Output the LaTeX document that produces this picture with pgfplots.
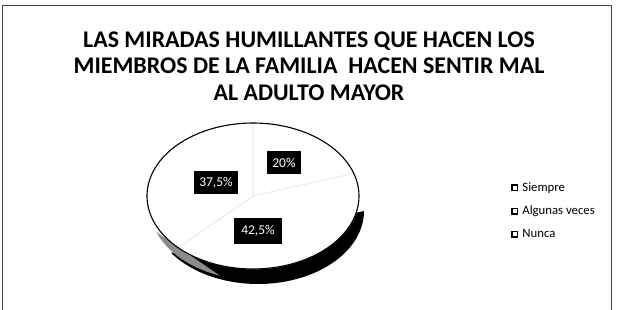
\documentclass[border=0pt]{standalone}
\usepackage{fontspec}
\setmainfont{Carlito}
\usepackage{pgfplots}
\usepackage{pgfplotstable}
\pgfplotsset{compat=1.18}
\pgfplotstableread{
cat value
Siempre 20
Algunas 42.5
Nunca 37.5
}\piedata
\pgfplotstablegetelem{0}{value}\of\piedata \let\vA\pgfplotsretval
\pgfplotstablegetelem{1}{value}\of\piedata \let\vB\pgfplotsretval
\pgfplotstablegetelem{2}{value}\of\piedata \let\vC\pgfplotsretval
\pgfmathsetmacro{\aS}{90}
\pgfmathsetmacro{\aA}{90-3.6*\vA}
\pgfmathsetmacro{\aB}{\aA-3.6*\vB}
\pgfmathsetmacro{\aC}{\aB-3.6*\vC}
\def\cx{253}\def\cy{114}\def\rx{106}\def\ry{73}
\begin{document}
\begin{tikzpicture}
\begin{axis}[
  scale only axis, width=633bp, height=310bp,
  xmin=0, xmax=633, ymin=0, ymax=310,
  hide axis, clip=false,
  legend style={at={(axis cs:511,129)}, anchor=north west, draw=none, fill=none,
    font=\fontsize{12.8}{14}\selectfont, row sep=10pt, inner sep=0pt,
    nodes={inner sep=1.5pt}},
  legend cell align=left,
  legend image code/.code={\draw[black, line width=1.5pt, fill=white] (0pt,-2.8pt) rectangle (5.6pt,2.8pt); \path[draw=none, fill=none] (0pt,0pt) -- (9pt,0pt);},
]
\coordinate (ll) at (axis cs:0,0);
\coordinate (ur) at (axis cs:633,310);
% frame
\draw[black!75, line width=0.9pt] (axis cs:2,0) -- (axis cs:2,305) -- (axis cs:611,305) -- (axis cs:611,0);
% title
\node[align=center, font=\fontsize{24}{26.5}\selectfont\bfseries] at (axis cs:309,244)
 {LAS MIRADAS HUMILLANTES QUE HACEN LOS\\MIEMBROS DE LA FAMILIA\ \ HACEN SENTIR MAL\\AL ADULTO MAYOR};
% side of the 3D pie
\addplot[forget plot, fill=black, draw=none, domain=215:360, samples=80]
  ({\cx+5+\rx*cos(x)}, {\cy-15+\ry*sin(x)}) -- cycle;
\addplot[forget plot, fill=black!45, draw=none, domain=200:250, samples=30]
  ({\cx+3+\rx*cos(x)}, {\cy-11+\ry*sin(x)}) -- cycle;
% slices
\addplot[forget plot, fill=white, draw=black!10, line width=0.6pt, domain=\aS:\aA, samples=40]
  ({\cx+\rx*cos(x)}, {\cy+\ry*sin(x)}) -- (axis cs:\cx,\cy) -- cycle;
\addplot[forget plot, fill=white, draw=black!10, line width=0.6pt, domain=\aA:\aB, samples=60]
  ({\cx+\rx*cos(x)}, {\cy+\ry*sin(x)}) -- (axis cs:\cx,\cy) -- cycle;
\addplot[forget plot, fill=white, draw=black!10, line width=0.6pt, domain=\aB:\aC, samples=60]
  ({\cx+\rx*cos(x)}, {\cy+\ry*sin(x)}) -- (axis cs:\cx,\cy) -- cycle;
% outline
\addplot[forget plot, draw=black, line width=1.1pt, domain=0:360, samples=120]
  ({\cx+\rx*cos(x)}, {\cy+\ry*sin(x)});
% data labels
\node[fill=black, text=white, font=\fontsize{13.5}{15}\selectfont, inner xsep=5pt, minimum height=23bp] at (axis cs:284,147) {20\%};
\node[fill=black, text=white, font=\fontsize{13.5}{15}\selectfont, inner xsep=5pt, minimum height=23bp] at (axis cs:216,127) {37,5\%};
\node[fill=black, text=white, font=\fontsize{13.5}{15}\selectfont, inner xsep=7pt, minimum height=26bp] at (axis cs:258,79) {42,5\%};
% legend
\addlegendimage{black}\addlegendentry{Siempre}
\addlegendimage{black}\addlegendentry{Algunas veces}
\addlegendimage{black}\addlegendentry{Nunca}
\end{axis}
\pgfresetboundingbox
\path (ll) rectangle (ur);
\end{tikzpicture}
\end{document}
